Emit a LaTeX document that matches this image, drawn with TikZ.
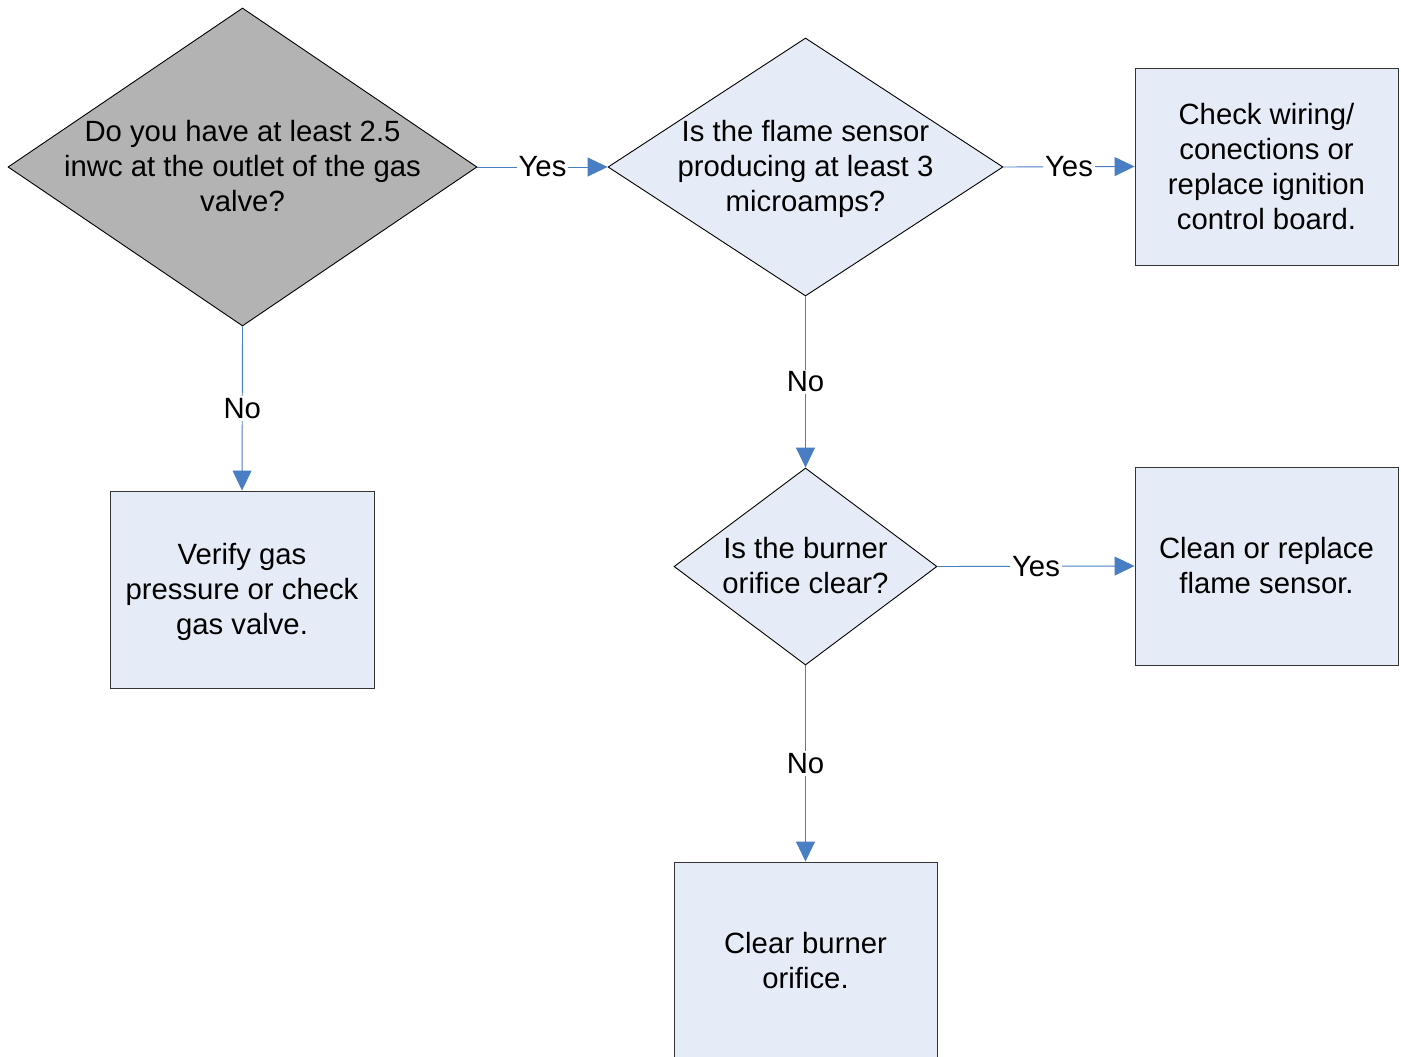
\documentclass[tikz,border=0pt]{standalone}
\usepackage{fontspec}
\setmainfont{Liberation Sans}
\usetikzlibrary{shapes.geometric,arrows.meta}
\definecolor{boxfill}{RGB}{230,236,247}
\definecolor{grayfill}{RGB}{179,179,179}
\definecolor{linkblue}{RGB}{74,126,196}
\tikzset{
  x=1pt,y=-1pt,
  dec/.style={shape=diamond,draw=black,line width=0.9pt,fill=boxfill,inner sep=0pt},
  txt/.style={align=center,font=\fontsize{29.3}{35}\selectfont,inner sep=0pt},
  rbox/.style={draw=black!80,line width=0.9pt,fill=boxfill,inner sep=0pt,align=center,font=\fontsize{29.3}{35}\selectfont},
  link/.style={draw=linkblue,line width=0.9pt,-{Triangle[length=20pt,width=19pt]}},
  lab/.style={fill=white,inner sep=2pt,font=\fontsize{29.3}{35}\selectfont}
}
\begin{document}
\begin{tikzpicture}
\useasboundingbox (0,0) rectangle (1401,1057);
% decisions
\node[dec,fill=grayfill,minimum width=469pt,minimum height=318pt] (d1) at (242.5,167) {};
\node[txt] (t1) at (242.5,166) {Do you have at least 2.5\\inwc at the outlet of the gas\\valve?};
\node[dec,minimum width=395pt,minimum height=258pt] (d2) at (805.5,167) {};
\node[txt] (t2) at (805.5,169) {Is the flame sensor\\producing at least 3\\microamps?};
\node[dec,minimum width=263pt,minimum height=197pt] (d3) at (805.5,566.5) {};
\node[txt] (t3) at (805.5,565.5) {Is the burner\\orifice clear?};
% boxes
\node[rbox,minimum width=263pt,minimum height=197pt,text depth=0pt] (b1) at (1266.5,166.5) {Check wiring/\\conections or\\replace ignition\\control board.};
\node[rbox,minimum width=264pt,minimum height=197pt] (b2) at (242,589.5) {};
\node[txt] (t4) at (242,592) {Verify gas\\pressure or check\\gas valve.};
\node[rbox,minimum width=263pt,minimum height=198pt] (b3) at (1266.5,566) {Clean or replace\\flame sensor.};
\node[rbox,minimum width=263pt,minimum height=198pt] (b4) at (805.5,961) {Clear burner\\orifice.};
% connectors
\draw[link] (d1.east) -- node[lab] (l1) {Yes} (d2.west);
\draw[link] (d2.east) -- node[lab] (l2) {Yes} (b1.west);
\draw[link] (d3.east) -- node[lab] (l3) {Yes} (b3.west);
\draw[link] (d1.south) -- node[lab] (l4) {No} (b2.north);
\draw[link] (d2.south) -- node[lab] (l5) {No} (d3.north);
\draw[link] (d3.south) -- node[lab] (l6) {No} (b4.north);
\end{tikzpicture}
\end{document}
